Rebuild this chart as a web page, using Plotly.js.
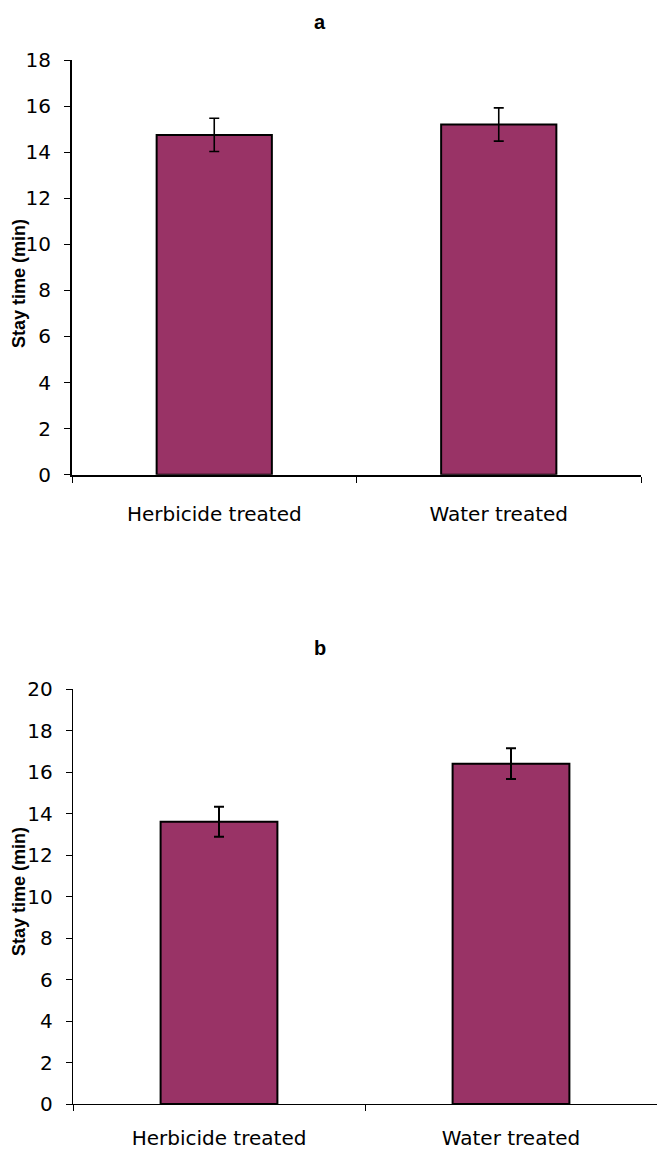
<!DOCTYPE html>
<html>
<head>
<meta charset="utf-8">
<script src="https://cdn.plot.ly/plotly-3.0.1.min.js"></script>
<style>html,body{margin:0;padding:0;background:#fff;}#chart{width:657px;height:1151px;}</style>
</head>
<body>
<div id="chart"></div>
<script>
// Data
const categories = ["Herbicide treated", "Water treated"];
const stayA = [14.75, 15.2];
const errA = [0.72, 0.72];
const stayB = [13.6, 16.4];
const errB = [0.72, 0.74];
const panelTitles = ["a", "b"];
const yTitle = "Stay time (min)";

const barColor = "#993366";
const tickFont = {family: "DejaVu Sans, Liberation Sans, Arial", size: 20, color: "#000"};

const traces = [
  {
    type: "bar", x: categories, y: stayA, xaxis: "x", yaxis: "y",
    marker: {color: barColor, line: {color: "#000", width: 2}},
    error_y: {type: "data", array: errA, visible: true, color: "#000", thickness: 1.6, width: 5},
    width: 0.405, hoverinfo: "none"
  },
  {
    type: "bar", x: categories, y: stayB, xaxis: "x2", yaxis: "y2",
    marker: {color: barColor, line: {color: "#000", width: 2}},
    error_y: {type: "data", array: errB, visible: true, color: "#000", thickness: 2, width: 5},
    width: 0.4, hoverinfo: "none"
  }
];

const H = 1151, T = 60, B = 47, L = 72, R = 0, W = 657;
const ph = H - T - B, pw = W - L - R;
const yf = p => (H - B - p) / ph;
const xf = p => (p - L) / pw;

const xCommon = {
  type: "category", showline: true, linecolor: "#000", ticks: "outside",
  tickson: "boundaries", ticklen: 6, tickcolor: "#000", showgrid: false,
  zeroline: false, tickfont: tickFont, range: [-0.5, 1.5], fixedrange: true
};
const yCommon = {
  showline: true, linecolor: "#000", ticks: "outside", ticklen: 6,
  tickcolor: "#000", showgrid: false, zeroline: false, tickfont: tickFont,
  ticklabelstandoff: 9, fixedrange: true
};

const titleFont = {family: "Liberation Sans, Arial", size: 20, color: "#000"};
const axTitleFont = {family: "Liberation Sans, Arial", size: 18, color: "#000"};

const layout = {
  width: W, height: H,
  margin: {l: L, r: R, t: T, b: B},
  paper_bgcolor: "#fff", plot_bgcolor: "#fff",
  showlegend: false,
  xaxis: Object.assign({}, xCommon, {domain: [0, xf(641)], anchor: "y", linewidth: 2, ticklabelstandoff: 20}),
  yaxis: Object.assign({}, yCommon, {domain: [yf(474.7), 1], anchor: "x", range: [0, 18], dtick: 2, linewidth: 2}),
  xaxis2: Object.assign({}, xCommon, {domain: [xf(73), 1], anchor: "y2", linewidth: 1.2, ticklabelstandoff: 16}),
  yaxis2: Object.assign({}, yCommon, {domain: [0, yf(689)], anchor: "x2", range: [0, 20], dtick: 2, linewidth: 1.2}),
  annotations: [
    {text: "<b>" + panelTitles[0] + "</b>", xref: "paper", yref: "paper", x: xf(320), y: yf(22),
     xanchor: "center", yanchor: "middle", showarrow: false, font: titleFont},
    {text: "<b>" + panelTitles[1] + "</b>", xref: "paper", yref: "paper", x: xf(320), y: yf(648),
     xanchor: "center", yanchor: "middle", showarrow: false, font: titleFont},
    {text: "<b>" + yTitle + "</b>", xref: "paper", yref: "paper", x: xf(19), y: yf(284),
     xanchor: "center", yanchor: "middle", textangle: -90, showarrow: false, font: axTitleFont},
    {text: "<b>" + yTitle + "</b>", xref: "paper", yref: "paper", x: xf(19), y: yf(892),
     xanchor: "center", yanchor: "middle", textangle: -90, showarrow: false, font: axTitleFont}
  ]
};

Plotly.newPlot("chart", traces, layout, {displayModeBar: false, staticPlot: true});
</script>
</body>
</html>
